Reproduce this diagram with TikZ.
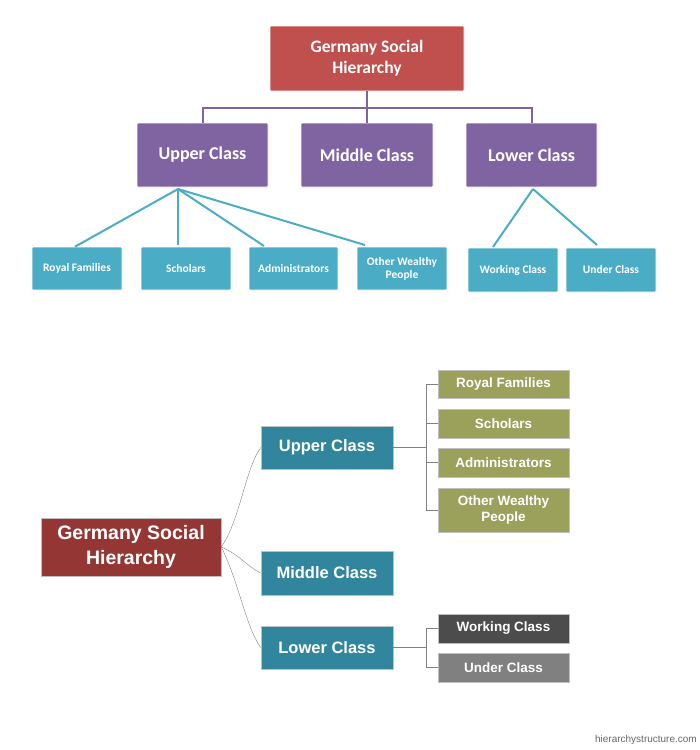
\documentclass[tikz,border=0pt]{standalone}
\usepackage{fontspec}
\setmainfont{Liberation Sans}
\newfontfamily\carl{Carlito}
\usetikzlibrary{positioning}
\definecolor{topred}{HTML}{C0504D}
\definecolor{toppurple}{HTML}{8064A2}
\definecolor{topteal}{HTML}{4BACC6}
\definecolor{botred}{HTML}{943634}
\definecolor{botteal}{HTML}{31859C}
\definecolor{botolive}{HTML}{9BA05A}
\begin{document}
\begin{tikzpicture}[x=1pt,y=-1pt]
		\tikzstyle{every node}+=[inner sep=0pt, text=white, align=center, font=\carl\bfseries]
		\tikzstyle{tbox}=[draw=white, rounded corners=1pt, line width=0.6pt]
		\tikzstyle{bbox}=[draw=black!25, line width=0.6pt, font=\bfseries]
		\useasboundingbox (0,0) rectangle (700,750);
		% upper chart
		\node [tbox, fill=topred, minimum width=194, minimum height=65, font=\carl\bfseries\fontsize{17.5}{21}\selectfont] (tg) at (367,58.5) {Germany Social\\Hierarchy};
		\node [tbox, fill=toppurple, minimum width=131, minimum height=64, font=\carl\bfseries\fontsize{18}{20}\selectfont] (tu) at (202.5,155) {Upper Class};
		\node [tbox, fill=toppurple, minimum width=132, minimum height=64, font=\carl\bfseries\fontsize{18}{20}\selectfont] (tm) at (367,155) {Middle Class};
		\node [tbox, fill=toppurple, minimum width=131, minimum height=64, font=\carl\bfseries\fontsize{18}{20}\selectfont] (tl) at (531.5,155) {Lower Class};
		\node [tbox, fill=topteal, minimum width=90, minimum height=43, font=\carl\bfseries\fontsize{11.5}{13}\selectfont] (tr) at (77,268.5) {Royal Families};
		\node [tbox, fill=topteal, minimum width=90, minimum height=43, font=\carl\bfseries\fontsize{11.5}{13}\selectfont] (ts) at (186,268.5) {Scholars};
		\node [tbox, fill=topteal, minimum width=89, minimum height=43, font=\carl\bfseries\fontsize{11.5}{13}\selectfont] (ta) at (293.5,268.5) {Administrators};
		\node [tbox, fill=topteal, minimum width=90, minimum height=43, font=\carl\bfseries\fontsize{11.5}{13}\selectfont] (to) at (402,268.5) {Other Wealthy\\People};
		\node [tbox, fill=topteal, minimum width=90, minimum height=44, font=\carl\bfseries\fontsize{11.5}{13}\selectfont] (tw) at (513,270) {Working Class};
		\node [tbox, fill=topteal, minimum width=90, minimum height=44, font=\carl\bfseries\fontsize{11.5}{13}\selectfont] (tn) at (611,270) {Under Class};
		\draw [toppurple, line width=2pt] (tg.south) -- ++(0,16.5) -| (tu.north);
		\draw [toppurple, line width=2pt] (tg.south) -- ++(0,16.5) -| (tl.north);
		\draw [toppurple, line width=2pt] (tg.south) -- (tm.north);
		\coordinate (ua) at (178,189);
		\coordinate (la) at (533,189);
		\draw [topteal, line width=2pt] (ua) -- (tr.north-|75,0);
		\draw [topteal, line width=2pt] (ua) -- (178,245);
		\draw [topteal, line width=2pt] (ua) -- (264,246);
		\draw [topteal, line width=2pt] (ua) -- (365,245);
		\draw [topteal, line width=2pt] (la) -- (493,247);
		\draw [topteal, line width=2pt] (la) -- (597,245);
		% lower chart
		\node [bbox, fill=botred, minimum width=180, minimum height=58, font=\bfseries\fontsize{19.5}{25}\selectfont] (bg) at (131,547) {Germany Social\\Hierarchy};
		\node [bbox, fill=botteal, minimum width=132, minimum height=43, font=\bfseries\fontsize{16.5}{19}\selectfont] (bu) at (327,447.5) {Upper Class};
		\node [bbox, fill=botteal, minimum width=132, minimum height=44, font=\bfseries\fontsize{16.5}{19}\selectfont] (bm) at (327,573) {Middle Class};
		\node [bbox, fill=botteal, minimum width=132, minimum height=43, font=\bfseries\fontsize{16.5}{19}\selectfont] (bl) at (327,647.5) {Lower Class};
		\node [bbox, fill=botolive, minimum width=131, minimum height=28, font=\bfseries\fontsize{13.5}{16}\selectfont] (br) at (503.5,384) {Royal Families};
		\node [bbox, fill=botolive, minimum width=131, minimum height=29, font=\bfseries\fontsize{13.5}{16}\selectfont] (bs) at (503.5,423.5) {Scholars};
		\node [bbox, fill=botolive, minimum width=131, minimum height=29, font=\bfseries\fontsize{13.5}{16}\selectfont] (ba) at (503.5,462.5) {Administrators};
		\node [bbox, fill=botolive, minimum width=131, minimum height=44, font=\bfseries\fontsize{13.5}{16}\selectfont] (bo) at (503.5,510) {Other Wealthy\\People};
		\node [bbox, fill=black!70, minimum width=131, minimum height=29, font=\bfseries\fontsize{13.5}{16}\selectfont] (bw) at (503.5,628.5) {Working Class};
		\node [bbox, fill=black!50, minimum width=131, minimum height=29, font=\bfseries\fontsize{13.5}{16}\selectfont] (bn) at (503.5,667.5) {Under Class};
		\draw [black!50] (bg.east) .. controls (240,520) and (245,470) .. (bu.west);
		\draw [black!50] (bg.east) .. controls (240,555) and (245,565) .. (bm.west);
		\draw [black!50] (bg.east) .. controls (240,585) and (245,625) .. (bl.west);
		\draw [black!50] (bu.east) -- (426,447.5);
		\draw [black!50] (br.west) -| (426,510) -- (bo.west);
		\draw [black!50] (bs.west) -- (426,423.5);
		\draw [black!50] (ba.west) -- (426,462.5);
		\draw [black!50] (bl.east) -- (426,647.5);
		\draw [black!50] (bw.west) -| (426,667.5) -- (bn.west);
		\node [text=black!60, font=\fontsize{10}{12}\selectfont, anchor=east] (wm) at (697,740) {hierarchystructure.com};
		\end{tikzpicture}
\end{document}
